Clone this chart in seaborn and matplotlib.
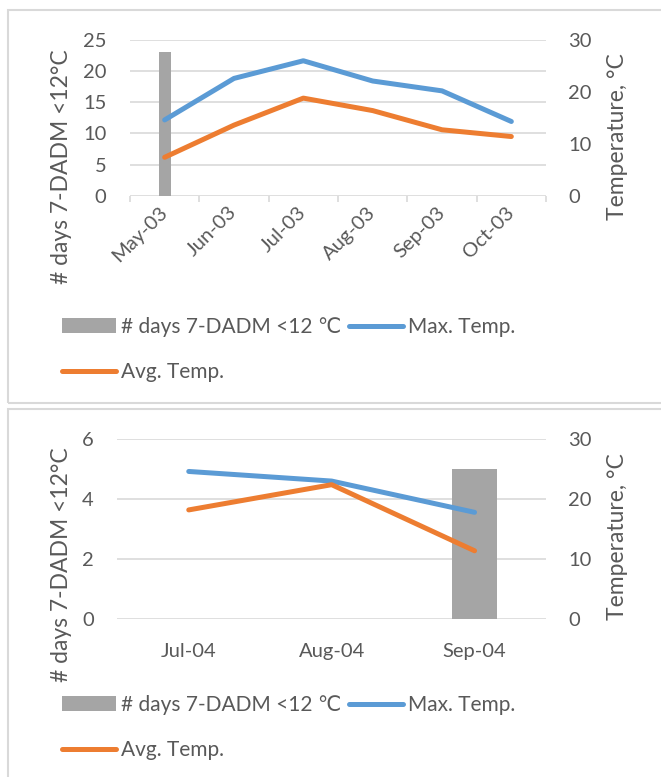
import numpy as np
import matplotlib
matplotlib.use("Agg")
import matplotlib.pyplot as plt
from matplotlib.patches import Rectangle, Patch
from matplotlib.lines import Line2D
from matplotlib.ticker import FixedLocator, MultipleLocator
import seaborn as sns

# 2003 season
months_2003 = ["May-03", "Jun-03", "Jul-03", "Aug-03", "Sep-03", "Oct-03"]
days_2003 = [23, 0, 0, 0, 0, 0]
max_temp_2003 = [14.6, 22.6, 26.0, 22.1, 20.2, 14.3]
avg_temp_2003 = [7.4, 13.6, 18.8, 16.4, 12.7, 11.4]

# 2004 season
months_2004 = ["Jul-04", "Aug-04", "Sep-04"]
days_2004 = [0, 0, 5]
max_temp_2004 = [24.6, 23.0, 17.8]
avg_temp_2004 = [18.2, 22.4, 11.4]

BAR_LABEL = "# days 7-DADM <12 \u2103"
LEFT_LABEL = "# days 7-DADM <12°C"
RIGHT_LABEL = "Temperature, °C"

GRAY_BAR = "#A5A5A5"
BLUE = "#5B9BD5"
ORANGE = "#ED7D31"
GRID = "#D9D9D9"
TEXT = "#595959"

sns.set_theme(style="white")
plt.rcParams["font.family"] = ["Lato", "DejaVu Sans"]
plt.rcParams["text.color"] = TEXT
plt.rcParams["axes.labelcolor"] = TEXT
plt.rcParams["xtick.color"] = TEXT
plt.rcParams["ytick.color"] = TEXT

W, H = 661, 777
fig = plt.figure(figsize=(W / 100, H / 100), dpi=100)
fig.patch.set_facecolor("white")


def px_box(left, top, right, bottom):
    return [left / W, 1 - bottom / H, (right - left) / W, (bottom - top) / H]


TICK_FS = 14.5
LABEL_FS = 16.5
LEG_FS = 15
LW = 3.6


def panel(rect, months, days, max_t, avg_t, ymax_days, day_step, bar_w,
          rotate, ylab_pos, rlab_pos, leg_pos):
    ax = fig.add_axes(px_box(*rect))
    sns.barplot(x=months, y=days, order=months, ax=ax, color=GRAY_BAR,
                width=bar_w, saturation=1, linewidth=0)
    ax.set_ylim(0, ymax_days)
    ax.yaxis.set_major_locator(MultipleLocator(day_step))
    ax.yaxis.grid(True, color=GRID, linewidth=1.2)
    ax.xaxis.grid(False)
    ax.set_axisbelow(True)
    ax.set_xlabel("")
    ax.set_ylabel("")
    for s in ax.spines.values():
        s.set_visible(False)
    ax.tick_params(axis="y", length=0, pad=17, labelsize=TICK_FS)

    ax2 = ax.twinx()
    pos = np.arange(len(months))
    sns.lineplot(x=pos, y=max_t, ax=ax2, color=BLUE, linewidth=LW,
                 solid_capstyle="round")
    sns.lineplot(x=pos, y=avg_t, ax=ax2, color=ORANGE, linewidth=LW,
                 solid_capstyle="round")
    ax2.set_ylim(0, 30)
    ax2.yaxis.set_major_locator(MultipleLocator(10))
    ax2.grid(False)
    ax2.set_ylabel("")
    for s in ax2.spines.values():
        s.set_visible(False)
    ax2.tick_params(axis="y", length=0, pad=16, labelsize=TICK_FS)
    ax.set_xlim(-0.5, len(months) - 0.5)

    if rotate:
        ax.xaxis.set_minor_locator(FixedLocator(np.arange(-0.5, len(months), 1.0)))
        ax.tick_params(axis="x", which="minor", length=4, width=1.2,
                       color=GRID, bottom=True)
        ax.tick_params(axis="x", which="major", length=0, pad=10,
                       labelsize=TICK_FS)
        for t in ax.get_xticklabels():
            t.set_rotation(45)
            t.set_ha("right")
            t.set_va("center")
            t.set_rotation_mode("anchor")
    else:
        ax.tick_params(axis="x", which="major", length=0, pad=17,
                       labelsize=TICK_FS)

    fig.text(ylab_pos[0] / W, 1 - ylab_pos[1] / H, LEFT_LABEL, rotation=90,
             ha="center", va="center", fontsize=LABEL_FS, color=TEXT)
    fig.text(rlab_pos[0] / W, 1 - rlab_pos[1] / H, RIGHT_LABEL, rotation=90,
             ha="center", va="center", fontsize=LABEL_FS, color=TEXT)

    handles = [
        Patch(facecolor=GRAY_BAR, edgecolor="none"),
        Line2D([], [], color=ORANGE, linewidth=LW, solid_capstyle="round"),
        Line2D([], [], color=BLUE, linewidth=LW, solid_capstyle="round"),
    ]
    labels = [BAR_LABEL, "Avg. Temp.", "Max. Temp."]
    fig.legend(handles, labels, loc="upper left",
               bbox_to_anchor=(leg_pos[0] / W, 1 - leg_pos[1] / H),
               bbox_transform=fig.transFigure, ncol=2, frameon=False,
               fontsize=LEG_FS, borderpad=0, borderaxespad=0,
               handlelength=2.6, handletextpad=0.25, columnspacing=0.35,
               labelspacing=1.2)
    return ax, ax2


panel((130, 40, 546, 195.7), months_2003, days_2003, max_temp_2003,
      avg_temp_2003, 25, 5, 0.17, True, (62, 167), (617, 137), (62, 317))
panel((117.3, 439, 546, 619.3), months_2004, days_2004, max_temp_2004,
      avg_temp_2004, 6, 2, 0.31, False, (62, 565), (617, 537), (62, 695))

# light frames around the two chart panels
fig.add_artist(Rectangle((8.4 / W, 1 - 403 / H), 1.0, (403 - 10) / H,
                         transform=fig.transFigure, fill=False,
                         edgecolor=GRID, linewidth=1.5))
fig.add_artist(Rectangle((8.4 / W, -0.05), 1.0, 0.05 + (777 - 409) / H,
                         transform=fig.transFigure, fill=False,
                         edgecolor=GRID, linewidth=1.5))

fig.savefig("out.png", dpi=100)
